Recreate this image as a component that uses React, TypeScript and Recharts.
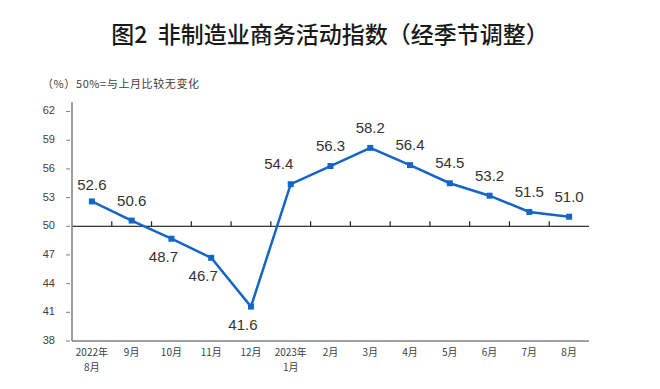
import React from 'react';
import { LineChart, Line, XAxis, YAxis, ReferenceLine, LabelList } from 'recharts';

const categories = ['2022年8月', '9月', '10月', '11月', '12月', '2023年1月', '2月', '3月', '4月', '5月', '6月', '7月', '8月'];
const values = [52.6, 50.6, 48.7, 46.7, 41.6, 54.4, 56.3, 58.2, 56.4, 54.5, 53.2, 51.5, 51.0];
const yTicks = [38, 41, 44, 47, 50, 53, 56, 59, 62];
const yDomain = [38, 63];
const BASELINE = 50;

const data = categories.map((c, i) => ({ month: c, value: values[i] }));

const BLUE = '#1466c6';
const GREY = '#7f7f7f';

const XTick = (props: any) => {
  const { x, y, payload } = props;
  const label: string = payload.value;
  const idx = label.indexOf('年');
  const lines = idx >= 0 ? [label.slice(0, idx + 1), label.slice(idx + 1)] : [label];
  return (
    <g>
      {lines.map((l, i) => (
        <text key={i} x={x} y={y + 4 + i * 15} textAnchor="middle" dominantBaseline="middle"
          fontSize={10} fill="#404040" fontFamily="'Noto Sans CJK SC', sans-serif">{l}</text>
      ))}
    </g>
  );
};

const YTick = (props: any) => {
  const { x, y, payload } = props;
  return (
    <g>
      <text x={x} y={y} textAnchor="end" dominantBaseline="middle" fontSize={11} fill="#404040"
        fontFamily="'Liberation Sans', Arial, sans-serif">{payload.value}</text>
      <line x1={x + 11} x2={x + 15} y1={y} y2={y} stroke={GREY} strokeWidth={1} />
    </g>
  );
};

const ValueLabel = (props: any) => {
  const { x, y, value, index } = props;
  const below = value < 50;
  const prev = index > 0 ? values[index - 1] : value;
  let dx = 0;
  if (below) dx = -8;
  else if (prev < 50) dx = -12;
  const dy = below ? 19 : index === 0 ? -15 : -19;
  return (
    <text x={x + dx} y={y + dy} textAnchor="middle" dominantBaseline="middle" fontSize={15}
      fill="#333" fontFamily="'Liberation Sans', Arial, sans-serif">{Number(value).toFixed(1)}</text>
  );
};

const Square = (props: any) => {
  const { cx, cy } = props;
  return <rect x={cx - 3} y={cy - 3} width={6} height={6} fill={BLUE} />;
};

// short tick mark on the 50 line at a category boundary
const BoundaryShape = (props: any) => {
  const { x1, y1, y2 } = props;
  const bottom = Math.max(Number(y1), Number(y2));
  const top = Math.min(Number(y1), Number(y2));
  const yb = bottom - ((BASELINE - yDomain[0]) / (yDomain[1] - yDomain[0])) * (bottom - top);
  return <path d={`M${x1},${yb}L${x1},${yb - 5}`} stroke="#222" strokeWidth={1.2} fill="none" />;
};

export default function App() {
  return (
    <div style={{ position: 'absolute', left: 0, top: 0, width: 660, height: 389, background: '#fff' }}>
      <div style={{ position: 'absolute', left: 0, top: 20, width: 660, textAlign: 'center', fontSize: 23,
        fontWeight: 500, color: '#1a1a1a', fontFamily: "'Noto Sans CJK SC', sans-serif", lineHeight: '26px' }}>
        图2&nbsp;&nbsp;非制造业商务活动指数（经季节调整）
      </div>
      <div style={{ position: 'absolute', left: 42, top: 76, fontSize: 11, letterSpacing: 0.6, color: '#404040',
        fontFamily: "'Noto Sans CJK SC', sans-serif", lineHeight: '14px' }}>
        （%）50%=与上月比较无变化
      </div>
      <LineChart width={660} height={389} data={data}
        margin={{ top: 102, right: 71, bottom: 0, left: 32 }}>
        <XAxis dataKey="month" xAxisId="main" scale="band" axisLine={{ stroke: GREY, strokeWidth: 1.5 }} tickLine={false}
          height={48} tick={<XTick />} interval={0} />
        <XAxis dataKey="month" xAxisId="top" scale="band" orientation="top" axisLine={{ stroke: GREY, strokeWidth: 1.5 }}
          tickLine={false} tick={false} height={0} />
        <YAxis yAxisId="main" domain={yDomain} ticks={yTicks} width={40} axisLine={{ stroke: GREY, strokeWidth: 1.5 }}
          tickLine={false} tick={<YTick />} tickMargin={11} interval={0} allowDataOverflow />
        <YAxis yAxisId="right" orientation="right" width={0} axisLine={{ stroke: GREY, strokeWidth: 1.5 }}
          tick={false} tickLine={false} domain={yDomain} />
        <ReferenceLine xAxisId="main" yAxisId="main" y={BASELINE} stroke="#000" strokeWidth={1} />
        {categories.slice(1).map((c) => (
          <ReferenceLine key={c} xAxisId="main" yAxisId="main" x={c} position="start" ifOverflow="visible" shape={<BoundaryShape />} />
        ))}
        <Line xAxisId="main" yAxisId="main" type="linear" dataKey="value" stroke={BLUE} strokeWidth={2.5}
          dot={<Square />} activeDot={false} isAnimationActive={false}>
          <LabelList dataKey="value" content={<ValueLabel />} />
        </Line>
      </LineChart>
    </div>
  );
}
